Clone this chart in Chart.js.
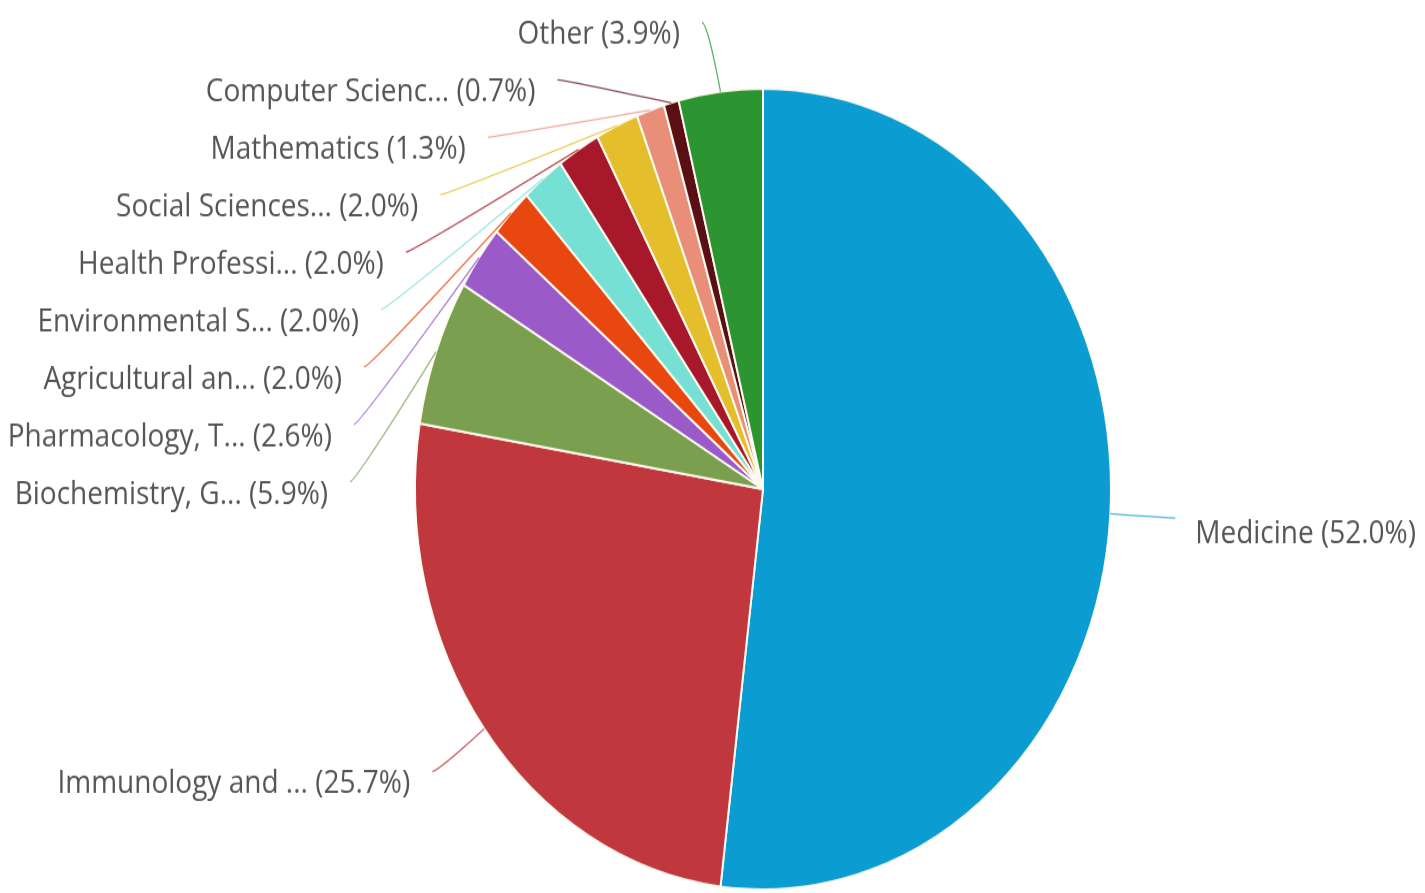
<!DOCTYPE html>
<html>

<head>
  <title>Documents by subject area</title>
  <script src="https://cdn.jsdelivr.net/npm/chart.js"></script>
  <style>
    body { margin: 0; background: #fff; }
  </style>
</head>

<body>
  <!-- the original pie is a bit taller than wide, so the canvas is stretched -->
  <canvas id="subjectChart" width="1425" height="776" style="width:1425px;height:893px;"></canvas>

  <script>
    const subjects = [
      'Medicine', 'Immunology and ...', 'Biochemistry, G...', 'Pharmacology, T...',
      'Agricultural an...', 'Environmental S...', 'Health Professi...', 'Social Sciences...',
      'Mathematics', 'Computer Scienc...', 'Other'
    ];
    const shares = [52.0, 25.7, 5.9, 2.6, 2.0, 2.0, 2.0, 2.0, 1.3, 0.7, 3.9];
    const sliceColors = [
      '#0b9cd1', '#c0373d', '#7aa04f', '#9a5bc8', '#e8470f', '#76e0d5',
      '#a8182b', '#e5be2b', '#e98f79', '#5a0f15', '#2c9430'
    ];

    // labels outside the pie with leader lines, stacked on each side
    const outsideLabels = {
      id: 'outsideLabels',
      afterDatasetsDraw(chart, args, opts) {
        const ctx = chart.ctx;
        const meta = chart.getDatasetMeta(0);
        const items = meta.data.map((arc, i) => {
          const p = arc.getProps(['x', 'y', 'startAngle', 'endAngle', 'outerRadius'], true);
          const a = (p.startAngle + p.endAngle) / 2;
          const Rx = p.outerRadius + opts.distance;
          const Ry = p.outerRadius + opts.distanceY;
          return {
            i, a, cx: p.x, cy: p.y, r: p.outerRadius, Rx, Ry,
            left: Math.cos(a) < 0,
            y: p.y + Math.sin(a) * Ry
          };
        });

        // push overlapping labels down
        [true, false].forEach(side => {
          const group = items.filter(it => it.left === side).sort((m, n) => m.y - n.y);
          let prev = opts.top - opts.gap;
          group.forEach(it => {
            it.y = Math.max(it.y, prev + opts.gap);
            prev = it.y;
          });
        });

        ctx.save();
        ctx.font = opts.font;
        ctx.textBaseline = 'middle';
        items.forEach(it => {
          const k = Math.max(Math.min((it.y - it.cy) / it.Ry, 1), -1);
          const dx = it.Rx * Math.sqrt(1 - k * k);
          const x = it.left ? it.cx - dx : it.cx + dx;
          const tx = it.cx + Math.cos(it.a) * it.r, ty = it.cy + Math.sin(it.a) * it.r;

          ctx.globalAlpha = 0.75;
          ctx.strokeStyle = sliceColors[it.i];
          ctx.lineWidth = 1.3;
          ctx.beginPath();
          ctx.moveTo(x, it.y);
          ctx.bezierCurveTo(x + (it.left ? 6 : -6), it.y, tx, ty, tx, ty);
          ctx.stroke();

          ctx.globalAlpha = 1;
          ctx.fillStyle = opts.color;
          ctx.textAlign = it.left ? 'right' : 'left';
          const text = subjects[it.i] + ' (' + shares[it.i].toFixed(1) + '%)';
          ctx.fillText(text, it.left ? x - 22 : x + 20, it.y + (it.left ? opts.textShift : opts.textShift + 3));
        });
        ctx.restore();
      }
    };

    const ctx = document.getElementById('subjectChart').getContext('2d');
    const subjectChart = new Chart(ctx, {
      type: 'pie',
      data: {
        labels: subjects,
        datasets: [{
          data: shares,
          backgroundColor: sliceColors,
          borderColor: '#fdfaf0',
          borderWidth: 2,
        }]
      },
      options: {
        responsive: false,
        animation: false,
        devicePixelRatio: 1,
        layout: {
          padding: { left: 400, right: 299, top: 76, bottom: 2 }
        },
        plugins: {
          legend: { display: false },
          tooltip: { enabled: false },
          outsideLabels: {
            distance: 65,
            distanceY: 62,
            gap: 49.9,
            top: 19.5,
            textShift: 11,
            font: '28px "Open Sans"',
            color: '#555'
          }
        }
      },
      plugins: [outsideLabels]
    });
  </script>
</body>

</html>
